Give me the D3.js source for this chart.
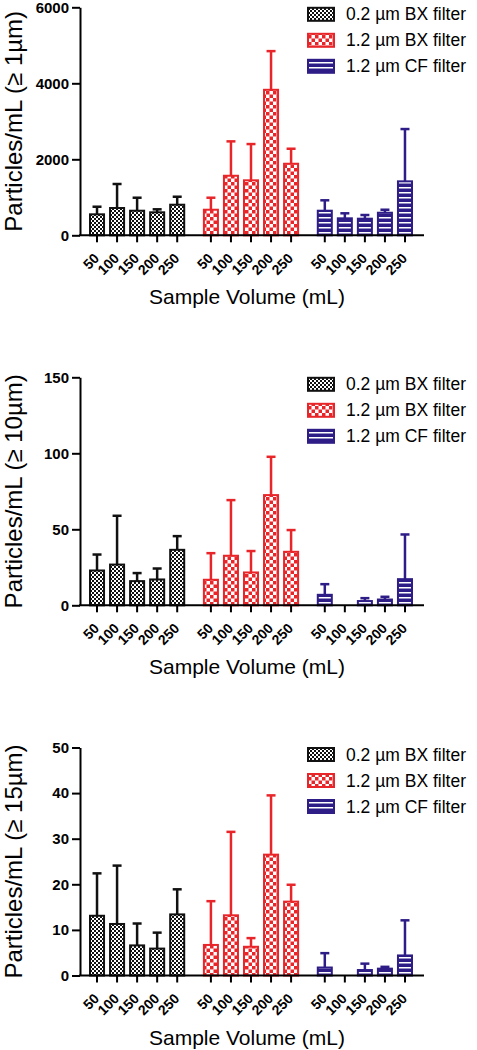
<!DOCTYPE html>
<html>
<head>
<meta charset="utf-8">
<script src="https://cdn.jsdelivr.net/npm/d3@7"></script>
<style>
  html, body { margin: 0; padding: 0; background: #fff; }
  svg { display: block; font-family: "Liberation Sans", Arial, sans-serif; }
</style>
</head>
<body>
<script>
// ---------------- DATA ----------------
const volumes = ["50", "100", "150", "200", "250"];
const filters = ["0.2 \u00b5m BX filter", "1.2 \u00b5m BX filter", "1.2 \u00b5m CF filter"];

// Panel 1: Particles/mL (>= 1 um)
const p1Title = "Particles/mL (\u2265 1\u00b5m)";
const p1Ticks = [0, 2000, 4000, 6000];
const p1Mean_BX02 = [552, 718, 647, 605, 805];
const p1SD_BX02   = [200, 632, 342, 79, 210];
const p1Mean_BX12 = [673, 1567, 1447, 3829, 1883];
const p1SD_BX12   = [316, 905, 954, 1018, 395];
const p1Mean_CF12 = [647, 447, 437, 594, 1420];
const p1SD_CF12   = [274, 132, 97, 79, 1376];

// Panel 2: Particles/mL (>= 10 um)
const p2Title = "Particles/mL (\u2265 10\u00b5m)";
const p2Ticks = [0, 50, 100, 150];
const p2Mean_BX02 = [22.9, 26.8, 15.9, 17.0, 36.5];
const p2SD_BX02   = [10.5, 32.1, 5.3, 7.2, 9.0];
const p2Mean_BX12 = [16.8, 32.6, 21.6, 72.5, 35.2];
const p2SD_BX12   = [17.5, 36.6, 14.1, 25.2, 14.3];
const p2Mean_CF12 = [6.9, 0, 2.8, 3.8, 17.2];
const p2SD_CF12   = [7.0, 0, 1.9, 1.8, 29.4];

// Panel 3: Particles/mL (>= 15 um)
const p3Title = "Particles/mL (\u2265 15\u00b5m)";
const p3Ticks = [0, 10, 20, 30, 40, 50];
const p3Mean_BX02 = [13.1, 11.3, 6.6, 5.9, 13.4];
const p3SD_BX02   = [9.3, 12.8, 4.8, 3.5, 5.5];
const p3Mean_BX12 = [6.7, 13.2, 6.3, 26.5, 16.2];
const p3SD_BX12   = [9.6, 18.3, 1.9, 13.0, 3.7];
const p3Mean_CF12 = [1.75, 0, 1.2, 1.5, 4.4];
const p3SD_CF12   = [3.15, 0, 1.4, 0.4, 7.7];

const xTitle = "Sample Volume (mL)";

// ---------------- STYLE / LAYOUT ----------------
const RED = "#e8262a", BLUE = "#2f1d87", BLACK = "#111";
const seriesColor = [BLACK, RED, BLUE];
const seriesFill = ["url(#patBlack)", "url(#patRed)", "url(#patBlue)"];

const panels = [
  { title: p1Title, ticks: p1Ticks, top: 7.3,
    means: [p1Mean_BX02, p1Mean_BX12, p1Mean_CF12], sds: [p1SD_BX02, p1SD_BX12, p1SD_CF12] },
  { title: p2Title, ticks: p2Ticks, top: 377.3,
    means: [p2Mean_BX02, p2Mean_BX12, p2Mean_CF12], sds: [p2SD_BX02, p2SD_BX12, p2SD_CF12] },
  { title: p3Title, ticks: p3Ticks, top: 747.5,
    means: [p3Mean_BX02, p3Mean_BX12, p3Mean_CF12], sds: [p3SD_BX02, p3SD_BX12, p3SD_CF12] }
];
const plotH = 228;
const axisX = 80, axisXEnd = 424;

const svg = d3.select("body").append("svg").attr("width", 477).attr("height", 1050);

// patterns
const defs = svg.append("defs");
const pb = defs.append("pattern").attr("id", "patBlack").attr("patternUnits", "userSpaceOnUse")
  .attr("width", 4).attr("height", 4);
pb.append("rect").attr("width", 4).attr("height", 4).attr("fill", "#fff");
pb.append("rect").attr("width", 2).attr("height", 2).attr("fill", "#111");
pb.append("rect").attr("x", 2).attr("y", 2).attr("width", 2).attr("height", 2).attr("fill", "#111");

const pr = defs.append("pattern").attr("id", "patRed").attr("patternUnits", "userSpaceOnUse")
  .attr("width", 7).attr("height", 7);
pr.append("rect").attr("width", 7).attr("height", 7).attr("fill", "#fff");
pr.append("rect").attr("width", 3.5).attr("height", 3.5).attr("fill", RED);
pr.append("rect").attr("x", 3.5).attr("y", 3.5).attr("width", 3.5).attr("height", 3.5).attr("fill", RED);

const pbl = defs.append("pattern").attr("id", "patBlue").attr("patternUnits", "userSpaceOnUse")
  .attr("width", 6).attr("height", 5);
pbl.append("rect").attr("width", 6).attr("height", 5).attr("fill", BLUE);
pbl.append("rect").attr("y", 2).attr("width", 6).attr("height", 1.5).attr("fill", "#fff");

// x scales (grouped)
const xOuter = d3.scaleBand().domain(filters).range([87, 415]).paddingInner(0.12).paddingOuter(0);
const xInner = d3.scaleBand().domain(volumes).range([0, xOuter.bandwidth()])
  .paddingInner(0.3).paddingOuter(0.15);

panels.forEach(p => {
  const bottom = p.top + plotH;
  const y = d3.scaleLinear().domain([0, d3.max(p.ticks)]).range([bottom, p.top]);
  const g = svg.append("g");

  // bars
  filters.forEach((f, si) => {
    const sg = g.append("g");
    volumes.forEach((v, vi) => {
      const m = p.means[si][vi], sd = p.sds[si][vi];
      if (!m) return;
      const cx = xOuter(f) + xInner(v) + xInner.bandwidth() / 2;
      // error bar (upper only)
      sg.append("line").attr("x1", cx).attr("x2", cx).attr("y1", y(m)).attr("y2", y(m + sd))
        .attr("stroke", seriesColor[si]).attr("stroke-width", 2.5);
      sg.append("line").attr("x1", cx - 4.5).attr("x2", cx + 4.5).attr("y1", y(m + sd)).attr("y2", y(m + sd))
        .attr("stroke", seriesColor[si]).attr("stroke-width", 2.5);
      sg.append("rect")
        .attr("x", xOuter(f) + xInner(v)).attr("width", xInner.bandwidth())
        .attr("y", y(m)).attr("height", y(0) - y(m))
        .attr("fill", seriesFill[si]).attr("stroke", seriesColor[si]).attr("stroke-width", 2);
    });
  });

  // y axis
  const ya = g.append("g").attr("transform", `translate(${axisX},0)`)
    .call(d3.axisLeft(y).tickValues(p.ticks).tickSize(8).tickPadding(3).tickSizeOuter(0).tickFormat(d3.format("d")));
  ya.select(".domain").attr("stroke", "#000").attr("stroke-width", 2);
  ya.selectAll(".tick line").attr("stroke", "#000").attr("stroke-width", 2);
  ya.selectAll(".tick text").attr("font-size", 15).attr("font-weight", "bold").attr("fill", "#000")
    .attr("font-family", "'Liberation Sans', Arial, sans-serif");

  // x axis
  g.append("line").attr("x1", axisX - 1).attr("x2", axisXEnd).attr("y1", bottom).attr("y2", bottom)
    .attr("stroke", "#000").attr("stroke-width", 2);
  filters.forEach(f => {
    volumes.forEach(v => {
      const cx = xOuter(f) + xInner(v) + xInner.bandwidth() / 2;
      g.append("line").attr("x1", cx).attr("x2", cx).attr("y1", bottom).attr("y2", bottom + 7)
        .attr("stroke", "#000").attr("stroke-width", 2);
      g.append("text").attr("transform", `translate(${cx + 3},${bottom + 24}) rotate(-45)`)
        .attr("text-anchor", "end").attr("font-size", 14).attr("font-weight", "bold").text(v);
    });
  });

  // titles
  g.append("text").attr("transform", `translate(22,${p.top + plotH / 2}) rotate(-90)`)
    .attr("text-anchor", "middle").attr("font-size", 24).text(p.title);
  g.append("text").attr("x", 247).attr("y", bottom + 69).attr("text-anchor", "middle")
    .attr("font-size", 21).text(xTitle);

  // legend
  filters.forEach((f, si) => {
    const cy = p.top + 7 + si * 26;
    g.append("rect").attr("x", 308).attr("y", cy - 6.5).attr("width", 26).attr("height", 13)
      .attr("fill", seriesFill[si]).attr("stroke", seriesColor[si]).attr("stroke-width", 2);
    g.append("text").attr("x", 346).attr("y", cy + 6).attr("font-size", 17.5).text(f);
  });
});
</script>
</body>
</html>
